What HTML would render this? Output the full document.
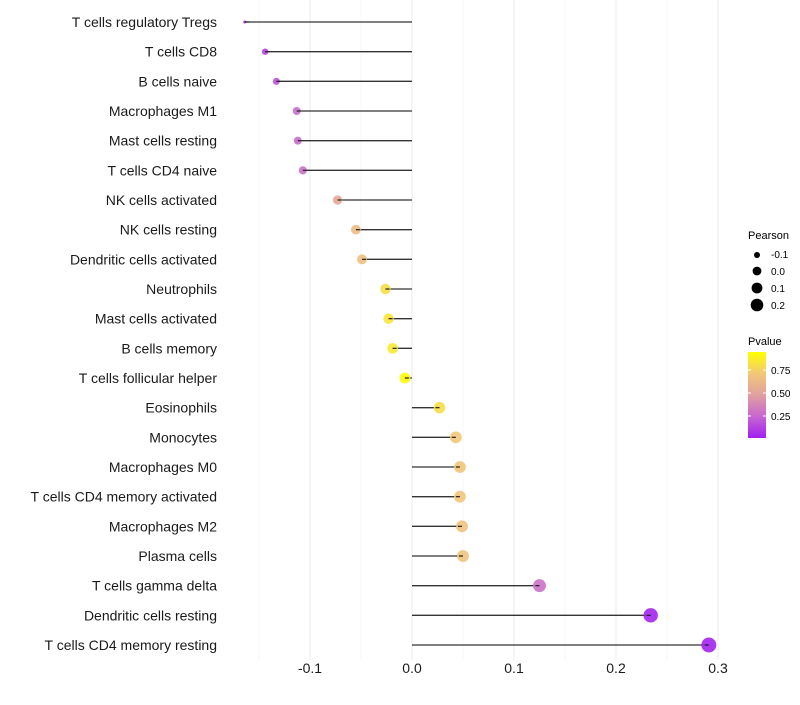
<!DOCTYPE html>
<html><head><meta charset="utf-8"><style>
body{margin:0;background:#fff;font-family:"Liberation Sans",sans-serif}
</style></head><body>
<svg id="chart" width="800" height="700" xmlns="http://www.w3.org/2000/svg">
<g id="grid"></g>
<g id="marks"></g>
<g id="labels"></g>
<g id="xticks"></g>
<g font-size="10">
  <text x="748" y="239" font-size="11" fill="#000">Pearson</text>
  <circle cx="757" cy="255" r="3" fill="#000"/><text x="771" y="258" fill="#000">-0.1</text>
  <circle cx="757" cy="271" r="4.4" fill="#000"/><text x="771" y="275" fill="#000">0.0</text>
  <circle cx="757" cy="288" r="5.4" fill="#000"/><text x="771" y="292" fill="#000">0.1</text>
  <circle cx="757" cy="305" r="6.3" fill="#000"/><text x="771" y="309" fill="#000">0.2</text>
</g>
<g font-size="10">
  <defs><linearGradient id="pg" x1="0" y1="1" x2="0" y2="0">
    <stop offset="0" stop-color="#A020F0"/><stop offset="0.25" stop-color="#C766D0"/><stop offset="0.5" stop-color="#E0A0A0"/><stop offset="0.75" stop-color="#F2C878"/><stop offset="1" stop-color="#FFFF00"/></linearGradient></defs>
  <text x="748" y="345" font-size="11" fill="#000">Pvalue</text>
  <rect x="748" y="352" width="18" height="86" fill="url(#pg)"/>
  <line x1="748" x2="751" y1="370" y2="370" stroke="#fff"/><line x1="763" x2="766" y1="370" y2="370" stroke="#fff"/>
  <line x1="748" x2="751" y1="393" y2="393" stroke="#fff"/><line x1="763" x2="766" y1="393" y2="393" stroke="#fff"/>
  <line x1="748" x2="751" y1="416" y2="416" stroke="#fff"/><line x1="763" x2="766" y1="416" y2="416" stroke="#fff"/>
  <text x="771" y="374" fill="#000">0.75</text>
  <text x="771" y="397" fill="#000">0.50</text>
  <text x="771" y="420" fill="#000">0.25</text>
</g>
</svg>
<script>
const categories=["T cells regulatory  Tregs","T cells CD8","B cells naive","Macrophages M1","Mast cells resting","T cells CD4 naive","NK cells activated","NK cells resting","Dendritic cells activated","Neutrophils","Mast cells activated","B cells memory","T cells follicular helper","Eosinophils","Monocytes","Macrophages M0","T cells CD4 memory activated","Macrophages M2","Plasma cells","T cells gamma delta","Dendritic cells resting","T cells CD4 memory resting"];
const pearson=[-0.164,-0.144,-0.133,-0.113,-0.112,-0.107,-0.073,-0.055,-0.049,-0.026,-0.023,-0.019,-0.007,0.027,0.043,0.047,0.047,0.049,0.050,0.125,0.234,0.291];
const pvalues=[0.06,0.13,0.18,0.28,0.28,0.3,0.55,0.68,0.7,0.85,0.88,0.9,0.98,0.85,0.75,0.73,0.73,0.72,0.72,0.3,0.02,0.01];
const majorTicks=[-0.1,0,0.1,0.2,0.3];
const tickLabels=["-0.1","0.0","0.1","0.2","0.3"];
const minorTicks=[-0.15,-0.05,0.05,0.15,0.25];

const NS="http://www.w3.org/2000/svg";
const xS=v=>412+v*1020;
const yS=i=>22+i*(623/21);
const vmin=Math.min(...pearson),vmax=Math.max(...pearson);
const rS=v=>1.5+6*Math.pow(Math.max(0,(v-vmin)/(vmax-vmin)),0.4);
const stops=[[0,[160,32,240]],[0.25,[199,102,208]],[0.5,[224,160,160]],[0.75,[242,200,120]],[1,[255,255,0]]];
function col(p){for(let k=0;k<stops.length-1;k++){const[a,ca]=stops[k],[b,cb]=stops[k+1];if(p<=b){const t=(p-a)/(b-a);return`rgb(${ca.map((c,j)=>Math.round(c+(cb[j]-c)*t)).join(',')})`;}}return"rgb(255,255,0)";}
function mk(tag,attrs,parent){const e=document.createElementNS(NS,tag);for(const k in attrs)e.setAttribute(k,attrs[k]);document.getElementById(parent).appendChild(e);return e;}

minorTicks.forEach(v=>{const l=mk('line',{x1:xS(v),x2:xS(v),y1:0,y2:660,stroke:'#f2f2f2','stroke-width':0.6},'grid');

});
majorTicks.forEach((v,i)=>{const l=mk('line',{x1:xS(v),x2:xS(v),y1:0,y2:660,stroke:'#ebebeb','stroke-width':1},'grid');


const t=mk('text',{x:xS(v),y:673,'text-anchor':'middle','font-size':14,fill:'#1a1a1a'},'xticks');t.textContent=tickLabels[i];

});

categories.forEach((c,i)=>{const y=yS(i);
const t=mk('text',{x:217,y:y+5,'text-anchor':'end','font-size':14,fill:'#1a1a1a'},'labels');t.textContent=c;


const l=mk('line',{x1:xS(0),x2:xS(pearson[i]),y1:y,y2:y,stroke:'#333','stroke-width':1.3},'marks');


const p=mk('circle',{cx:xS(pearson[i]),cy:y,r:rS(pearson[i]),fill:col(pvalues[i]),'fill-opacity':0.9},'marks');


const l2=mk('line',{x1:xS(pearson[i]),x2:xS(pearson[i])+(pearson[i]<0?4:-4),y1:y,y2:y,stroke:'#222','stroke-width':1.2},'marks');

});
</script>
</body></html>
